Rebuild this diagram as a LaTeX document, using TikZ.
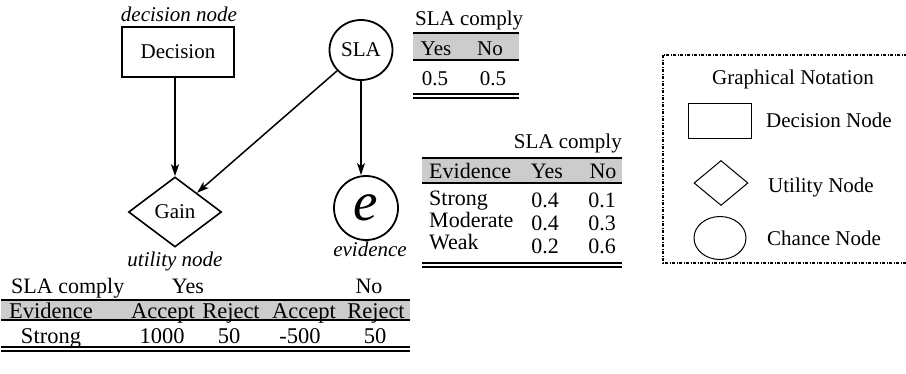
\documentclass[tikz,border=0pt]{standalone}
\usepackage{fontspec}
\setmainfont{Liberation Serif}
\usetikzlibrary{shapes.geometric,arrows.meta}

\tikzset{
  txt/.style={inner sep=0pt, font=\fontsize{21}{24}\selectfont},
  txtm/.style={inner sep=0pt, font=\fontsize{22}{25}\selectfont},
  txtl/.style={inner sep=0pt, font=\fontsize{22.5}{26}\selectfont},
  lbl/.style={txt, font=\fontsize{21}{24}\selectfont\itshape},
  decbox/.style={draw, line width=1.8pt, rectangle, minimum width=112pt, minimum height=50pt, inner sep=0pt, font=\fontsize{21}{24}\selectfont},
  chance/.style={draw, line width=1.8pt, ellipse, inner sep=0pt, font=\fontsize{21}{24}\selectfont},
  util/.style={draw, line width=1.6pt, diamond, inner sep=0pt, minimum width=93pt, minimum height=70pt, font=\fontsize{21}{24}\selectfont},
  link/.style={line width=1.5pt, -{Stealth[length=12pt, width=8pt, inset=3pt]}},
  hdr/.style={fill=black!20},
  toprule/.style={line width=1.8pt},
  midrule/.style={line width=1.4pt},
  botrule/.style={line width=1.2pt},
  legshape/.style={draw, line width=1pt, inner sep=0pt},
  legbox/.style={line width=1.1pt, dash pattern=on 3pt off 1.5pt on 1pt off 1.5pt},
}

\begin{document}
\begin{tikzpicture}[x=1pt, y=-1pt]
\clip (0,0) rectangle (906,373);

% influence diagram
\node[lbl, anchor=base] (declbl) at (179,21) {decision node};
\node[decbox] (dec) at (178,52) {Decision};
\node[chance, minimum width=63pt, minimum height=60pt] (sla) at (361,50) {SLA};
\node[util] (gain) at (175,212) {Gain};
\node[chance, minimum width=64pt, minimum height=64pt, font=\fontsize{55}{55}\selectfont\itshape] (ev) at (366,208) {e};
\node[lbl, anchor=base] (utillbl) at (175,266) {utility node};
\node[lbl, anchor=base] (evlbl) at (370,256) {evidence};

\draw[link] (gain.north |- dec.south) -- (gain.north);
\draw[link] (sla) -- (gain);
\draw[link] (sla.south) -- (sla.south |- ev.north);

% prior of SLA compliance
\fill[hdr] (413,33) rectangle (519,60);
\draw[toprule] (413,33) -- (519,33);
\draw[midrule] (413,60) -- (519,60);
\draw[botrule] (413,94) -- (519,94);
\draw[botrule] (413,98) -- (519,98);
\node[txt, anchor=base west] (pa) at (415,25) {SLA comply};
\node[txt, anchor=base] (pyes) at (436,55) {Yes};
\node[txt, anchor=base] (pno) at (490,55) {No};
\node[txt, anchor=base] (pv1) at (435,85) {0.5};
\node[txt, anchor=base] (pv2) at (493,85) {0.5};

% evidence given SLA compliance
\fill[hdr] (422,158) rectangle (622,183);
\draw[toprule] (422,158) -- (622,158);
\draw[midrule] (422,183) -- (622,183);
\draw[botrule] (422,263) -- (622,263);
\draw[botrule] (422,267) -- (622,267);
\node[txt, anchor=base east] (ea) at (622,148) {SLA comply};
\node[txtm, anchor=base west] (eh) at (429,178) {Evidence};
\node[txtm, anchor=base] (ehy) at (547,178) {Yes};
\node[txtm, anchor=base] (ehn) at (603,178) {No};
\node[txtm, anchor=base west] (er1) at (429,205) {Strong};
\node[txtm, anchor=base west] (er2) at (429,227) {Moderate};
\node[txtm, anchor=base west] (er3) at (429,249) {Weak};
\node[txtm, anchor=base] (e11) at (545,207) {0.4};
\node[txtm, anchor=base] (e12) at (602,207) {0.1};
\node[txtm, anchor=base] (e21) at (545,230) {0.4};
\node[txtm, anchor=base] (e22) at (602,230) {0.3};
\node[txtm, anchor=base] (e31) at (545,253) {0.2};
\node[txtm, anchor=base] (e32) at (602,253) {0.6};

% utility table
\fill[hdr] (1,300) rectangle (410,320);
\draw[toprule] (1,300) -- (410,300);
\draw[midrule] (1,320) -- (410,320);
\draw[botrule] (1,347) -- (410,347);
\draw[botrule] (1,351) -- (410,351);
\node[txtm, anchor=base west] (ua) at (11,293) {SLA comply};
\node[txtm, anchor=base] (uy) at (188,293) {Yes};
\node[txtm, anchor=base] (un) at (369,293) {No};
\node[txtl, anchor=base] (uh0) at (51,318) {Evidence};
\node[txtl, anchor=base] (uh1) at (163,318) {Accept};
\node[txtl, anchor=base] (uh2) at (231,318) {Reject};
\node[txtl, anchor=base] (uh3) at (304,318) {Accept};
\node[txtl, anchor=base] (uh4) at (376,318) {Reject};
\node[txtl, anchor=base] (uv0) at (51,343) {Strong};
\node[txtl, anchor=base] (uv1) at (162,343) {1000};
\node[txtl, anchor=base] (uv2) at (229,343) {50};
\node[txtl, anchor=base] (uv3) at (300,343) {-500};
\node[txtl, anchor=base] (uv4) at (375,343) {50};

% legend
\draw[legbox] (663,55) rectangle (920,263);
\node[txt, anchor=base] (lt) at (793,84) {Graphical Notation};
\node[legshape, rectangle, minimum width=63pt, minimum height=35pt] (lrect) at (719.5,120.5) {};
\node[txt, anchor=base west] (lrt) at (766,127) {Decision Node};
\node[legshape, diamond, minimum width=54pt, minimum height=45pt] (ldia) at (721,183) {};
\node[txt, anchor=base west] (ldt) at (768,192) {Utility Node};
\node[legshape, ellipse, minimum width=52pt, minimum height=43pt] (lell) at (720,238) {};
\node[txt, anchor=base west] (let) at (767,245) {Chance Node};
\end{tikzpicture}
\end{document}
